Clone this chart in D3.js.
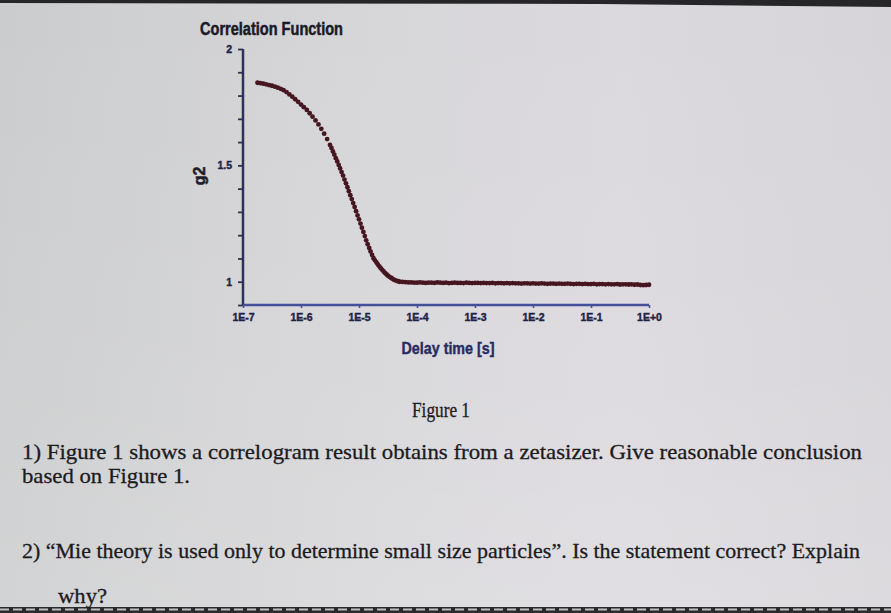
<!DOCTYPE html>
<html>
<head>
<meta charset="utf-8">
<script src="https://cdn.jsdelivr.net/npm/d3@7/dist/d3.min.js"></script>
<style>
  html, body { margin: 0; padding: 0; background: #d6d6d8; }
  svg { display: block; }
</style>
</head>
<body>
<svg id="chart" width="891" height="613"></svg>
<script>
// Correlogram: intercept g2 versus delay time (s), log-spaced correlator lags
const delayTime = [
  1.78e-7, 2.00e-7, 2.24e-7, 2.51e-7, 2.82e-7, 3.16e-7, 3.55e-7, 3.98e-7, 4.47e-7, 5.01e-7,
  5.62e-7, 6.31e-7, 7.08e-7, 7.94e-7, 8.91e-7, 1.00e-6, 1.12e-6, 1.26e-6, 1.41e-6, 1.58e-6,
  1.78e-6, 2.00e-6, 2.24e-6, 2.51e-6, 2.82e-6, 3.16e-6,
  3.35e-6, 3.55e-6, 3.76e-6, 3.98e-6, 4.22e-6, 4.47e-6, 4.73e-6, 5.01e-6, 5.31e-6, 5.62e-6,
  5.96e-6, 6.31e-6, 6.68e-6, 7.08e-6, 7.50e-6, 7.94e-6, 8.41e-6, 8.91e-6, 9.44e-6, 1.00e-5,
  1.06e-5, 1.12e-5, 1.19e-5, 1.26e-5, 1.33e-5, 1.41e-5, 1.50e-5, 1.58e-5, 1.68e-5, 1.78e-5,
  1.88e-5, 2.00e-5, 2.11e-5, 2.24e-5, 2.37e-5, 2.51e-5, 2.66e-5, 2.82e-5, 2.99e-5, 3.16e-5,
  3.35e-5, 3.55e-5, 3.76e-5, 3.98e-5, 4.22e-5, 4.47e-5, 4.73e-5, 5.01e-5,
  5.62e-5, 6.31e-5, 7.08e-5, 7.94e-5, 8.91e-5,
  1.00e-4, 1.12e-4, 1.26e-4, 1.41e-4, 1.58e-4, 1.78e-4, 2.00e-4, 2.24e-4, 2.51e-4, 2.82e-4,
  3.16e-4, 3.55e-4, 3.98e-4, 4.47e-4, 5.01e-4, 5.62e-4, 6.31e-4, 7.08e-4, 7.94e-4, 8.91e-4,
  1.00e-3, 1.12e-3, 1.26e-3, 1.41e-3, 1.58e-3, 1.78e-3, 2.00e-3, 2.24e-3, 2.51e-3, 2.82e-3,
  3.16e-3, 3.55e-3, 3.98e-3, 4.47e-3, 5.01e-3, 5.62e-3, 6.31e-3, 7.08e-3, 7.94e-3, 8.91e-3,
  1.00e-2, 1.12e-2, 1.26e-2, 1.41e-2, 1.58e-2, 1.78e-2, 2.00e-2, 2.24e-2, 2.51e-2, 2.82e-2,
  3.16e-2, 3.55e-2, 3.98e-2, 4.47e-2, 5.01e-2, 5.62e-2, 6.31e-2, 7.08e-2, 7.94e-2, 8.91e-2,
  1.00e-1, 1.12e-1, 1.26e-1, 1.41e-1, 1.58e-1, 1.78e-1, 2.00e-1, 2.24e-1, 2.51e-1, 2.82e-1,
  3.16e-1, 3.55e-1, 3.98e-1, 4.47e-1, 5.01e-1, 5.62e-1, 6.31e-1, 7.08e-1, 7.94e-1, 8.91e-1,
  1.00
];
const g2 = [
  1.855, 1.853, 1.851, 1.848, 1.845, 1.842, 1.838, 1.834, 1.829, 1.823,
  1.815, 1.805, 1.795, 1.784, 1.773, 1.761, 1.750, 1.738, 1.724, 1.709,
  1.693, 1.676, 1.657, 1.636, 1.613, 1.588,
  1.575, 1.560, 1.546, 1.531, 1.517, 1.502, 1.487, 1.471, 1.456, 1.439,
  1.423, 1.406, 1.389, 1.372, 1.355, 1.338, 1.321, 1.303, 1.285, 1.268,
  1.250, 1.232, 1.214, 1.196, 1.178, 1.161, 1.145, 1.130, 1.115, 1.101,
  1.092, 1.083, 1.074, 1.066, 1.058, 1.051, 1.044, 1.037, 1.031, 1.026,
  1.021, 1.017, 1.013, 1.009, 1.006, 1.004, 1.002, 1.000,
  0.999, 0.998, 0.997, 0.997, 0.996,
  0.996, 0.997, 0.996, 0.995, 0.996, 0.996, 0.995, 0.997, 0.996, 0.995,
  0.996, 0.994, 0.995, 0.996, 0.995, 0.995, 0.994, 0.996, 0.995, 0.994,
  0.995, 0.995, 0.994, 0.995, 0.994, 0.994, 0.995, 0.993, 0.994, 0.994,
  0.993, 0.994, 0.993, 0.994, 0.993, 0.993, 0.992, 0.993, 0.993, 0.992,
  0.993, 0.992, 0.992, 0.993, 0.992, 0.991, 0.992, 0.992, 0.991, 0.992,
  0.991, 0.991, 0.992, 0.991, 0.990, 0.991, 0.991, 0.990, 0.991, 0.990,
  0.990, 0.991, 0.989, 0.990, 0.990, 0.989, 0.990, 0.989, 0.989, 0.990,
  0.988, 0.989, 0.989, 0.988, 0.989, 0.987, 0.988, 0.986, 0.985, 0.986,
  0.987
];

const xTicks = [1e-7, 1e-6, 1e-5, 1e-4, 1e-3, 1e-2, 1e-1, 1];
const xTickLabels = ["1E-7", "1E-6", "1E-5", "1E-4", "1E-3", "1E-2", "1E-1", "1E+0"];
const yTicks = [0.9, 1.0, 1.1, 1.2, 1.3, 1.4, 1.5, 1.6, 1.7, 1.8, 1.9, 2.0];
const yTickLabels = {"1": "1", "1.5": "1.5", "2": "2"};

const chartTitle = "Correlation Function";
const xTitle = "Delay time [s]";
const yTitle = "g2";

const caption = "Figure 1";
const questionLines = [
  "1) Figure 1 shows a correlogram result obtains from a zetasizer. Give reasonable conclusion",
  "based on Figure 1.",
  "2) \u201CMie  theory is used only to determine small size particles\u201D. Is the statement correct? Explain",
  "why?"
];

const svg = d3.select("#chart");
const W = 891, H = 613;

// page background
const defs = svg.append("defs");
const bg = defs.append("linearGradient").attr("id", "bg").attr("x1", 0).attr("x2", 1).attr("y1", 0).attr("y2", 0);
bg.append("stop").attr("offset", 0).attr("stop-color", "#cbcccd");
bg.append("stop").attr("offset", 0.35).attr("stop-color", "#d5d5d7");
bg.append("stop").attr("offset", 0.7).attr("stop-color", "#dcd9de");
bg.append("stop").attr("offset", 1).attr("stop-color", "#d6d4d8");
const bgV = defs.append("linearGradient").attr("id", "bgv").attr("x1", 0).attr("x2", 0).attr("y1", 0).attr("y2", 1);
bgV.append("stop").attr("offset", 0).attr("stop-color", "#ffffff").attr("stop-opacity", 0);
bgV.append("stop").attr("offset", 0.6).attr("stop-color", "#ffffff").attr("stop-opacity", 0.08);
bgV.append("stop").attr("offset", 1).attr("stop-color", "#ffffff").attr("stop-opacity", 0.15);
svg.append("rect").attr("width", W).attr("height", H).attr("fill", "url(#bg)");
svg.append("rect").attr("width", W).attr("height", H).attr("fill", "url(#bgv)");

// dark screen edges
svg.append("path").attr("d", "M0,0 H891 V7 L600,4 L0,3 Z").attr("fill", "#262628");
svg.append("rect").attr("x", 0).attr("y", 607).attr("width", W).attr("height", 6).attr("fill", "#2a2a2c");
svg.append("line").attr("x1", 0).attr("x2", W).attr("y1", 609.5).attr("y2", 609.5)
  .attr("stroke", "#bdbdbd").attr("stroke-width", 2).attr("stroke-dasharray", "9,4");

// scales
const x = d3.scaleLog().domain([1e-7, 1]).range([243, 649]);
const y = d3.scaleLinear().domain([0.9, 2]).range([305, 49]);

const narrow = "'Liberation Sans Narrow', 'Arial Narrow', 'Liberation Sans', sans-serif";
const navy = "#1e2246";

// title
svg.append("text").attr("x", 200).attr("y", 35)
  .attr("font-family", narrow).attr("font-weight", "bold").attr("font-size", 18)
  .attr("fill", "#1a1b28").attr("stroke", "#1a1b28").attr("stroke-width", 0.5)
  .attr("textLength", 143).attr("lengthAdjust", "spacingAndGlyphs")
  .text(chartTitle);

// y axis
const yAxis = d3.axisLeft(y).tickValues(yTicks).tickSize(5).tickPadding(6)
  .tickFormat(d => yTickLabels[String(+d.toFixed(1))] || "");
const gy = svg.append("g").attr("transform", "translate(243,0)").call(yAxis);
gy.select(".domain").attr("stroke", "#2a3358").attr("stroke-width", 2.5).attr("d", `M0,${y(2)}V${y(0.9)}`);
gy.selectAll(".tick line").attr("stroke", "#2a3358").attr("stroke-width", 1.8);
gy.selectAll(".tick text").attr("font-family", narrow).attr("font-weight", "bold")
  .attr("font-size", 10.5).attr("fill", navy).attr("stroke", navy).attr("stroke-width", 0.4);

// x axis
const xAxis = d3.axisBottom(x).tickValues(xTicks).tickSize(3).tickPadding(6)
  .tickFormat((d, i) => xTickLabels[i]);
const gx = svg.append("g").attr("transform", "translate(0,305)").call(xAxis);
gx.select(".domain").attr("stroke", "#46509a").attr("stroke-width", 2.5).attr("d", `M243,0H${x(1)}`);
gx.selectAll(".tick line").attr("stroke", "#46509a").attr("stroke-width", 1.6);
gx.selectAll(".tick text").attr("font-family", narrow).attr("font-weight", "bold")
  .attr("font-size", 10.5).attr("fill", navy).attr("stroke", navy).attr("stroke-width", 0.4);

// axis titles
svg.append("text").attr("x", 448).attr("y", 354).attr("text-anchor", "middle")
  .attr("font-family", narrow).attr("font-weight", "bold").attr("font-size", 16)
  .attr("fill", "#262c62").attr("stroke", "#262c62").attr("stroke-width", 0.4)
  .attr("textLength", 93).attr("lengthAdjust", "spacingAndGlyphs")
  .text(xTitle);
svg.append("text").attr("transform", "translate(205,176) rotate(-90)").attr("text-anchor", "middle")
  .attr("font-family", narrow).attr("font-weight", "bold").attr("font-size", 16)
  .attr("fill", "#1e1e2a").attr("stroke", "#1e1e2a").attr("stroke-width", 0.5).text(yTitle);

// data points
const pts = delayTime.map((t, i) => ({t, v: g2[i]}));
svg.append("g").selectAll("circle").data(pts).join("circle")
  .attr("cx", d => x(d.t)).attr("cy", d => y(d.v)).attr("r", 2.4)
  .attr("fill", "#461620");

// caption and questions
const serif = "'Liberation Serif', 'Times New Roman', serif";
const txt = "#1b1b1d";
svg.append("text").attr("x", 441).attr("y", 417).attr("text-anchor", "middle")
  .attr("font-family", serif).attr("font-size", 22).attr("fill", txt)
  .attr("stroke", txt).attr("stroke-width", 0.3)
  .attr("textLength", 58).attr("lengthAdjust", "spacingAndGlyphs").text(caption);

const qPos = [
  {x: 22, y: 459, w: 840},
  {x: 22, y: 483, w: 168},
  {x: 22, y: 558, w: 838},
  {x: 58, y: 603, w: 49}
];
questionLines.forEach((line, i) => {
  svg.append("text").attr("x", qPos[i].x).attr("y", qPos[i].y)
    .attr("font-family", serif).attr("font-size", 22).attr("fill", txt)
    .attr("stroke", txt).attr("stroke-width", 0.3)
    .attr("textLength", qPos[i].w).attr("lengthAdjust", "spacingAndGlyphs")
    .text(line);
});
</script>
</body>
</html>
